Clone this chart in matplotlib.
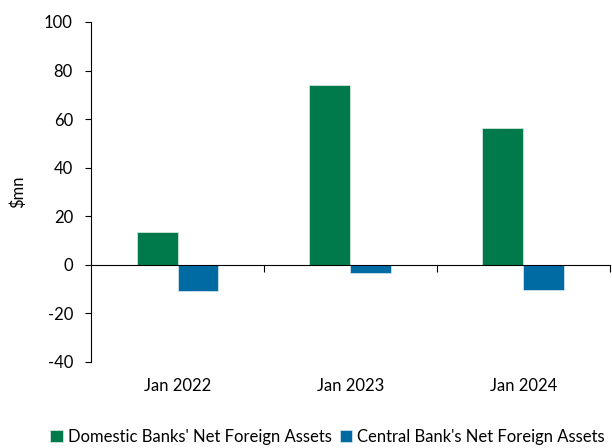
import matplotlib
matplotlib.use('Agg')
from matplotlib import pyplot as plt
from matplotlib.transforms import blended_transform_factory
import numpy as np

plt.rcParams['font.family'] = ['Lato', 'DejaVu Sans']
plt.rcParams['axes.unicode_minus'] = False

cats = ['Jan 2022', 'Jan 2023', 'Jan 2024']
domestic = [13.4, 73.9, 56.3]
central = [-10.7, -3.2, -10.3]
names = ["Domestic Banks' Net Foreign Assets", "Central Bank's Net Foreign Assets"]
green = '#007A4A'
blue = '#006BA2'

fig = plt.figure(figsize=(6.12, 4.48), dpi=100)
ax = fig.add_axes([0.1487, 0.192, 0.848, 0.759])

x = np.arange(len(cats))
w = 0.237
ax.bar(x - w/2, domestic, w, color=green, edgecolor='#cfe5da', linewidth=0.6, label=names[0])
ax.bar(x + w/2, central, w, color=blue, edgecolor='#cfe0ec', linewidth=0.6, label=names[1])

ax.set_xlim(-0.5, 2.5)
ax.set_ylim(-40, 100)
ax.set_yticks(range(-40, 101, 20))
ax.tick_params(axis='y', labelsize=12, length=4, width=0.8, direction='out', pad=9)
ax.set_ylabel('$mn', fontsize=12, labelpad=13)

ax.spines['top'].set_visible(False)
ax.spines['right'].set_visible(False)
ax.spines['bottom'].set_position(('data', 0))
ax.spines['left'].set_linewidth(0.8)
ax.spines['bottom'].set_linewidth(0.8)
ax.set_xticks([0.5, 1.5, 2.5])
ax.set_xticklabels([])
ax.tick_params(axis='x', length=5, width=0.8, direction='out')

tr = blended_transform_factory(ax.transData, ax.transAxes)
for xi, c in zip(x, cats):
    ax.text(xi, -0.07, c, transform=tr, ha='center', va='center', fontsize=12)

fig.legend(loc='lower center', bbox_to_anchor=(0.535, -0.016), ncol=2, frameon=False,
           fontsize=12, handlelength=0.75, handleheight=0.75, handletextpad=0.3,
           columnspacing=0.5, borderaxespad=0.2)

fig.savefig('out.png', dpi=100)
